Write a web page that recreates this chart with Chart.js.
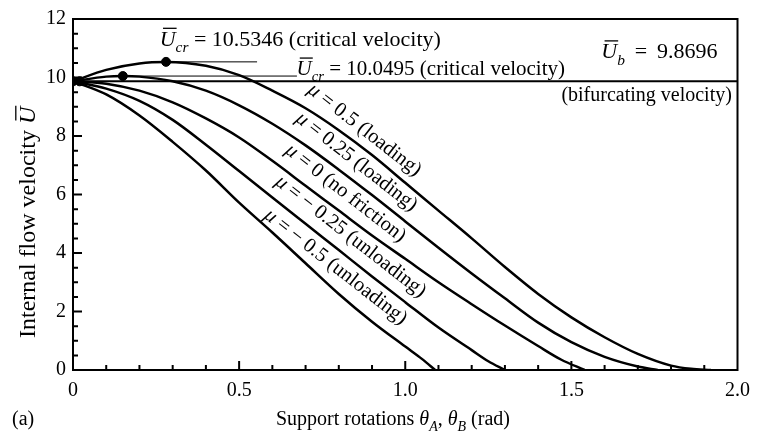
<!DOCTYPE html>
<html lang="en">
<head>
<meta charset="UTF-8">
<title>Internal flow velocity vs support rotations</title>
<script src="https://cdn.jsdelivr.net/npm/chart.js"></script>
<style>
  body { margin: 0; background: #fff; }
  #wrap { width: 759px; height: 439px; }
</style>
</head>
<body>
<div id="wrap"><canvas id="chart" width="759" height="439"></canvas></div>
<script>
// support rotation (rad) and internal flow velocity, one pair per friction case
const thetaP05 = [0, 0.1, 0.2, 0.28, 0.4, 0.5, 0.6, 0.7, 0.8, 0.9, 1.0, 1.1, 1.2, 1.3, 1.4, 1.5, 1.6, 1.7, 1.8, 1.86, 1.92];
const velP05   = [9.87, 10.26, 10.48, 10.53, 10.4, 10.08, 9.55, 8.95, 8.2, 7.35, 6.4, 5.45, 4.5, 3.52, 2.6, 1.8, 1.12, 0.55, 0.15, 0.04, 0];

const thetaP025 = [0, 0.1, 0.15, 0.2, 0.3, 0.4, 0.5, 0.6, 0.7, 0.8, 0.9, 1.0, 1.1, 1.2, 1.3, 1.4, 1.5, 1.6, 1.7, 1.76];
const velP025   = [9.87, 10.03, 10.05, 10.03, 9.87, 9.55, 9.05, 8.42, 7.68, 6.85, 5.98, 5.08, 4.18, 3.3, 2.45, 1.62, 0.95, 0.45, 0.12, 0];

const theta0 = [0, 0.1, 0.2, 0.3, 0.4, 0.5, 0.6, 0.7, 0.8, 0.9, 1.0, 1.1, 1.2, 1.3, 1.4, 1.47, 1.54];
const vel0   = [9.87, 9.79, 9.55, 9.15, 8.6, 7.95, 7.15, 6.3, 5.45, 4.6, 3.8, 3.0, 2.25, 1.52, 0.82, 0.35, 0];

const thetaM025 = [0, 0.1, 0.2, 0.3, 0.4, 0.5, 0.6, 0.7, 0.8, 0.9, 1.0, 1.1, 1.2, 1.25, 1.3];
const velM025   = [9.87, 9.62, 9.2, 8.55, 7.7, 6.8, 5.9, 5.0, 4.1, 3.2, 2.32, 1.45, 0.68, 0.3, 0];

const thetaM05 = [0, 0.1, 0.2, 0.3, 0.4, 0.5, 0.6, 0.7, 0.8, 0.9, 1.0, 1.05, 1.09];
const velM05   = [9.87, 9.42, 8.7, 7.8, 6.82, 5.72, 4.7, 3.65, 2.6, 1.65, 0.8, 0.38, 0];

const bifurcation = 9.8696;
const critTheta = [0.28, 0.15];
const critVel = [10.5346, 10.0495];
const leaderEnd = [0.554, 0.674];
const startTheta = [0, 0.02];

const xTicks = [0, 0.5, 1.0, 1.5, 2.0];
const yTicks = [0, 2, 4, 6, 8, 10, 12];

const serif = "'Liberation Serif', 'Times New Roman', serif";
const FS = 20;

function pts(xs, ys) {
    return xs.map((x, i) => ({ x: x, y: ys[i] }));
}

function curve(xs, ys) {
    return {
        data: pts(xs, ys),
        borderColor: '#000',
        borderWidth: 2.5,
        pointRadius: 0,
        showLine: true,
        cubicInterpolationMode: 'monotone'
    };
}

function runsWidth(ctx, runs, fs) {
    let w = 0;
    runs.forEach(r => {
        const size = r.sub ? fs * 0.7 : fs;
        ctx.font = (r.i ? 'italic ' : '') + size + 'px ' + serif;
        w += ctx.measureText(r.t).width;
    });
    return w;
}

function drawRuns(ctx, x, y, runs, fs) {
    runs.forEach(r => {
        const size = r.sub ? fs * 0.7 : fs;
        ctx.font = (r.i ? 'italic ' : '') + size + 'px ' + serif;
        const w = ctx.measureText(r.t).width;
        ctx.fillText(r.t, x, r.sub ? y + fs * 0.28 : y);
        if (r.bar) {
            ctx.lineWidth = 1.3;
            ctx.beginPath();
            ctx.moveTo(x + fs * 0.15, y - fs * 0.8);
            ctx.lineTo(x + w + 1, y - fs * 0.8);
            ctx.stroke();
        }
        x += w;
    });
}

const Ubar = { t: 'U', i: 1, bar: 1 };

// texts placed at data coordinates (theta, U)
const notes = [
    { x: 0.261, y: 11.08, fs: 22, runs: [Ubar, { t: 'cr', i: 1, sub: 1 }, { t: ' = 10.5346 (critical velocity)' }] },
    { x: 0.673, y: 10.09, fs: 21, runs: [Ubar, { t: 'cr', i: 1, sub: 1 }, { t: ' = 10.0495 (critical velocity)' }] },
    { x: 1.59, y: 10.65, fs: 22, runs: [Ubar, { t: 'b', i: 1, sub: 1 }, { t: ' \u2009=\u2009 9.8696' }] },
    { x: 1.47, y: 9.2, fs: 20, runs: [{ t: '(bifurcating velocity)' }] }
];

const curveLabels = [
    { x: 0.880, y: 8.24, runs: [{ t: 'μ', i: 1 }, { t: ' = 0.5 (loading)' }] },
    { x: 0.856, y: 7.15, runs: [{ t: 'μ', i: 1 }, { t: ' = 0.25 (loading)' }] },
    { x: 0.823, y: 6.08, runs: [{ t: 'μ', i: 1 }, { t: ' = 0 (no friction)' }] },
    { x: 0.838, y: 4.6, runs: [{ t: 'μ', i: 1 }, { t: ' = − 0.25 (unloading)' }] },
    { x: 0.793, y: 3.56, runs: [{ t: 'μ', i: 1 }, { t: ' = − 0.5 (unloading)' }] }
];
const labelAngle = 38 * Math.PI / 180;
const labelFs = 20.5;

const framePlugin = {
    id: 'frame',
    afterDraw(chart) {
        const ctx = chart.ctx;
        const a = chart.chartArea;
        const xs = chart.scales.x, ys = chart.scales.y;
        ctx.save();
        ctx.strokeStyle = '#000';
        ctx.fillStyle = '#000';
        ctx.lineWidth = 2;
        ctx.strokeRect(a.left, a.top, a.right - a.left, a.bottom - a.top);

        // inward ticks
        ctx.beginPath();
        for (let k = 1; k < 20; k++) {
            const px = xs.getPixelForValue(k / 10);
            const len = k % 5 === 0 ? 9 : 5;
            ctx.moveTo(px, a.bottom);
            ctx.lineTo(px, a.bottom - len);
        }
        for (let k = 1; k < 24; k++) {
            const py = ys.getPixelForValue(k / 2);
            const len = k % 4 === 0 ? 9 : 5;
            ctx.moveTo(a.left, py);
            ctx.lineTo(a.left + len, py);
        }
        ctx.stroke();

        ctx.textBaseline = 'alphabetic';
        ctx.textAlign = 'left';
        notes.forEach(n => {
            drawRuns(ctx, xs.getPixelForValue(n.x), ys.getPixelForValue(n.y), n.runs, n.fs);
        });

        curveLabels.forEach(l => {
            ctx.save();
            ctx.translate(xs.getPixelForValue(l.x), ys.getPixelForValue(l.y));
            ctx.rotate(labelAngle);
            const w = runsWidth(ctx, l.runs, labelFs);
            drawRuns(ctx, -w / 2, labelFs * 0.33, l.runs, labelFs);
            ctx.restore();
        });

        // axis titles
        drawRuns(ctx, 276, 425, [
            { t: 'Support rotations ' }, { t: 'θ', i: 1 }, { t: 'A', i: 1, sub: 1 },
            { t: ', ' }, { t: 'θ', i: 1 }, { t: 'B', i: 1, sub: 1 }, { t: ' (rad)' }
        ], FS);
        drawRuns(ctx, 12, 425, [{ t: '(a)' }], FS);

        ctx.save();
        ctx.translate(35, 338);
        ctx.rotate(-Math.PI / 2);
        drawRuns(ctx, 0, 0, [{ t: 'Internal flow velocity ' }, Ubar], 24);
        ctx.restore();

        ctx.restore();
    }
};

const ctx = document.getElementById('chart').getContext('2d');
new Chart(ctx, {
    type: 'scatter',
    data: {
        datasets: [
            curve(thetaP05, velP05),
            curve(thetaP025, velP025),
            curve(theta0, vel0),
            curve(thetaM025, velM025),
            curve(thetaM05, velM05),
            {
                data: pts([0, 2], [bifurcation, bifurcation]),
                borderColor: '#000', borderWidth: 2, pointRadius: 0, showLine: true
            },
            {
                data: pts([critTheta[0], leaderEnd[0]], [critVel[0], critVel[0]]),
                borderColor: '#000', borderWidth: 1, pointRadius: 0, showLine: true
            },
            {
                data: pts([critTheta[1], leaderEnd[1]], [critVel[1], critVel[1]]),
                borderColor: '#000', borderWidth: 1, pointRadius: 0, showLine: true
            },
            {
                data: pts(critTheta, critVel).concat(pts(startTheta, [bifurcation, bifurcation])),
                backgroundColor: '#000', borderColor: '#000', pointRadius: 4.5, showLine: false
            }
        ]
    },
    options: {
        responsive: false,
        animation: false,
        devicePixelRatio: 1,
        layout: { padding: { top: 18, right: 20, left: 0, bottom: 0 } },
        plugins: { legend: { display: false }, tooltip: { enabled: false } },
        scales: {
            x: {
                type: 'linear',
                min: 0,
                max: 2,
                afterFit: s => { s.height = 69; },
                afterBuildTicks: s => { s.ticks = xTicks.map(v => ({ value: v })); },
                grid: { display: false, drawTicks: false },
                border: { display: false },
                ticks: {
                    padding: 9,
                    color: '#000',
                    font: { family: serif, size: FS },
                    callback: v => v === 0 ? '0' : v.toFixed(1)
                }
            },
            y: {
                min: 0,
                max: 12,
                afterFit: s => { s.width = 73; },
                afterBuildTicks: s => { s.ticks = yTicks.map(v => ({ value: v })); },
                grid: { display: false, drawTicks: false },
                border: { display: false },
                ticks: {
                    padding: 7,
                    color: '#000',
                    font: { family: serif, size: FS }
                }
            }
        }
    },
    plugins: [framePlugin]
});
</script>
</body>
</html>
